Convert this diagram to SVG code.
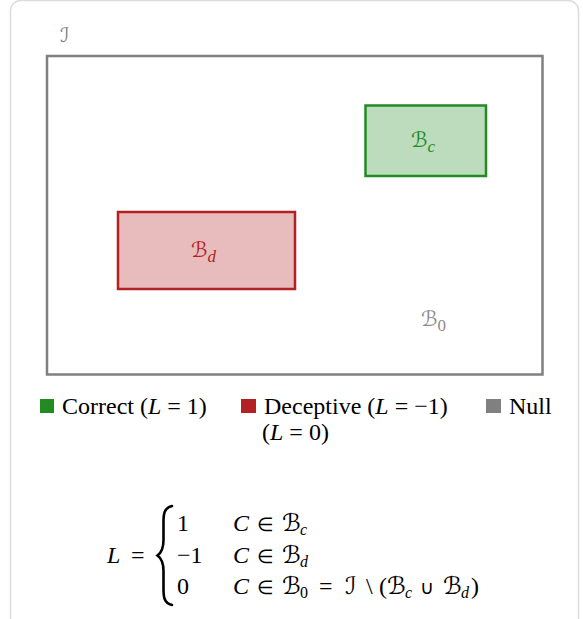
<svg xmlns="http://www.w3.org/2000/svg" width="583" height="619" viewBox="0 0 583 619">
<defs>
<style>
.box{stroke-width:2.5}
</style>
</defs>
<rect id="card" x="10.5" y="0.5" width="568" height="660" rx="10" fill="#fff" stroke="#dcdcdc" stroke-width="1.5"/>
<g id="universe">
<rect class="box" x="47" y="56" width="495.5" height="318.5" fill="#fff" stroke="#808080"/>
<text x="60" y="42" font-family="DejaVu Sans" font-size="20" fill="#808080">ℐ</text>
</g>
<g id="Bc">
<rect class="box" x="365.5" y="105.5" width="120.5" height="70.5" fill="#bddcbd" stroke="#228b22"/>
<text x="411" y="147" font-family="DejaVu Sans" font-size="21" fill="#228b22">ℬ<tspan font-family="Liberation Serif" font-style="italic" font-size="17" dy="5">c</tspan></text>
</g>
<g id="Bd">
<rect class="box" x="118" y="212" width="177" height="77" fill="#e8bcbc" stroke="#b22222"/>
<text x="191" y="257" font-family="DejaVu Sans" font-size="21" fill="#b22222">ℬ<tspan font-family="Liberation Serif" font-style="italic" font-size="17" dy="5">d</tspan></text>
</g>
<g id="B0">
<text x="421" y="326" font-family="DejaVu Sans" font-size="21" fill="#8c8c8c">ℬ<tspan font-family="Liberation Serif" font-size="17" dy="5">0</tspan></text>
</g>
<g id="legend">
<rect x="40" y="399" width="14" height="14" fill="#228b22"/>
<text font-family="Liberation Serif" font-size="24" x="62" y="414">Correct (<tspan font-style="italic">L</tspan> = 1)</text>
<rect x="241" y="399" width="15" height="14" fill="#b22222"/>
<text font-family="Liberation Serif" font-size="24" x="264" y="414">Deceptive (<tspan font-style="italic">L</tspan> = −1)</text>
<rect x="486" y="399" width="15" height="14" fill="#808080"/>
<text font-family="Liberation Serif" font-size="24" x="509" y="414">Null</text>
<text font-family="Liberation Serif" font-size="24" x="262" y="440">(<tspan font-style="italic">L</tspan> = 0)</text>
</g>
<g id="formula">
<text font-family="Liberation Serif" font-size="24" x="107" y="563"><tspan font-style="italic">L</tspan><tspan x="131">=</tspan></text>
<path d="M172,506 C164,508 163.5,514 163.5,522 L163.5,540 C163.5,549 161,553 157.5,555.5 C161,558 163.5,562 163.5,571 L163.5,589 C163.5,597 164,603 172,605" fill="none" stroke="#000" stroke-width="2.6" stroke-linecap="round"/>
<text font-family="Liberation Serif" font-size="24" x="177" y="531">1</text>
<text font-family="Liberation Serif" font-size="24" x="177" y="563">−1</text>
<text font-family="Liberation Serif" font-size="24" x="177" y="594">0</text>
<text font-family="Liberation Serif" font-size="24" x="233" y="531"><tspan font-style="italic">C</tspan><tspan x="257" font-family="DejaVu Sans" font-size="19">∈</tspan><tspan x="282" font-family="DejaVu Sans">ℬ</tspan><tspan x="300" font-style="italic" font-size="16" dy="4">c</tspan></text>
<text font-family="Liberation Serif" font-size="24" x="233" y="563"><tspan font-style="italic">C</tspan><tspan x="257" font-family="DejaVu Sans" font-size="19">∈</tspan><tspan x="282" font-family="DejaVu Sans">ℬ</tspan><tspan x="300" font-style="italic" font-size="16" dy="4">d</tspan></text>
<text font-family="Liberation Serif" font-size="24" x="233" y="594"><tspan font-style="italic">C</tspan><tspan x="257" font-family="DejaVu Sans" font-size="19">∈</tspan><tspan x="282" font-family="DejaVu Sans">ℬ</tspan><tspan x="300" font-size="16" dy="4">0</tspan><tspan x="319" dy="-4">=</tspan><tspan x="345" font-family="DejaVu Sans">ℐ</tspan><tspan x="366">\</tspan><tspan x="379">(</tspan><tspan x="387" font-family="DejaVu Sans">ℬ</tspan><tspan x="405" font-style="italic" font-size="16" dy="4">c</tspan><tspan x="420" dy="-4" font-family="DejaVu Sans" font-size="19">∪</tspan><tspan x="443" font-family="DejaVu Sans">ℬ</tspan><tspan x="461" font-style="italic" font-size="16" dy="4">d</tspan><tspan x="471" dy="-4">)</tspan></text>
</g>
</svg>
